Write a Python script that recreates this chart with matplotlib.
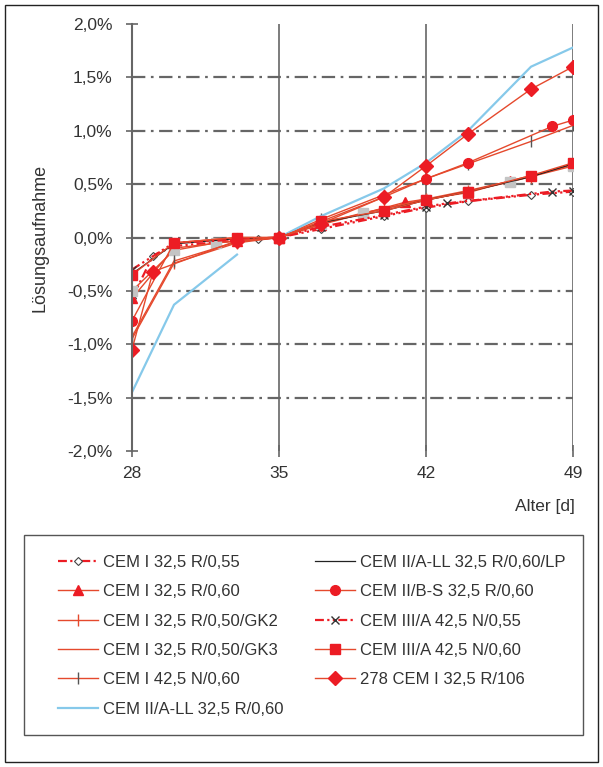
import matplotlib
matplotlib.use("Agg")
import matplotlib.pyplot as plt
import numpy as np
from matplotlib.patches import Rectangle
from matplotlib.ticker import FuncFormatter

plt.rcParams['font.family'] = ['Liberation Sans', 'DejaVu Sans']

# Data (Lösungsaufnahme in %, Alter in Tagen)
labels = [
    "CEM I 32,5 R/0,55",
    "CEM I 32,5 R/0,60",
    "CEM I 32,5 R/0,50/GK2",
    "CEM I 32,5 R/0,50/GK3",
    "CEM I 42,5 N/0,60",
    "CEM II/A-LL 32,5 R/0,60",
    "CEM II/A-LL 32,5 R/0,60/LP",
    "CEM II/B-S 32,5 R/0,60",
    "CEM III/A 42,5 N/0,55",
    "CEM III/A 42,5 N/0,60",
    "278 CEM I 32,5 R/106",
]

days_r055 = [28, 29, 30, 34, 35, 37, 40, 42, 44, 47, 49]
vals_r055 = [-0.57, -0.17, -0.08, -0.01, 0.0, 0.08, 0.20, 0.28, 0.34, 0.40, 0.43]

days_r060 = [28, 30, 33, 35, 37, 41, 42, 44, 46, 49]
vals_r060 = [-0.57, -0.10, -0.03, 0.0, 0.12, 0.33, 0.36, 0.42, 0.53, 0.68]

days_gk2 = [28, 30, 33, 35, 37, 40, 42, 44, 47, 49]
vals_gk2 = [-0.95, -0.24, -0.05, 0.0, 0.13, 0.27, 0.36, 0.44, 0.57, 0.69]

days_gk3 = [28, 30, 32, 35, 37, 39, 42, 44, 46, 49]
vals_gk3 = [-0.50, -0.12, -0.05, 0.0, 0.13, 0.23, 0.35, 0.43, 0.52, 0.67]

days_n060 = [28, 30, 33, 35, 37, 40, 42, 44, 47, 49]
vals_n060 = [-0.93, -0.22, -0.04, 0.0, 0.17, 0.40, 0.55, 0.69, 0.90, 1.05]

days_ll = [28, 30, 33, 34, 35, 37, 40, 42, 44, 47, 49]
vals_ll = [-1.45, -0.63, -0.16, np.nan, 0.0, 0.20, 0.46, 0.70, 1.00, 1.60, 1.78]

days_lp = [28, 30, 33, 35, 37, 40, 42, 44, 47, 49]
vals_lp = [-0.34, -0.06, -0.01, 0.0, 0.14, 0.25, 0.35, 0.43, 0.57, 0.69]

days_bs = [28, 30, 33, 35, 37, 40, 42, 44, 48, 49]
vals_bs = [-0.78, -0.05, 0.0, 0.0, 0.15, 0.38, 0.55, 0.70, 1.04, 1.10]

days_a055 = [28, 30, 33, 35, 37, 40, 42, 43, 48, 49]
vals_a055 = [-0.30, -0.05, -0.02, 0.0, 0.10, 0.21, 0.29, 0.32, 0.43, 0.44]

days_a060 = [28, 30, 33, 35, 37, 40, 42, 44, 47, 49]
vals_a060 = [-0.35, -0.05, 0.0, 0.0, 0.15, 0.25, 0.35, 0.43, 0.58, 0.70]

days_278 = [28, 29, 33, 35, 37, 40, 42, 44, 47, 49]
vals_278 = [-1.05, -0.32, -0.03, 0.0, 0.13, 0.38, 0.67, 0.97, 1.39, 1.60]

xticks = [28, 35, 42, 49]
yticks = [-2.0, -1.5, -1.0, -0.5, 0.0, 0.5, 1.0, 1.5, 2.0]

line_red = '#e5492d'
mark_red = '#ec1c24'
blue = '#86c9ea'
grid_col = '#666666'
txt = '#333333'
ddot = (0, (4, 1.5, 1, 1.5, 1, 1.5))

fig = plt.figure(figsize=(6.03, 7.67), dpi=100)
ax = fig.add_axes([132 / 603, 1 - 451 / 767, 441 / 603, 427 / 767])

ax.plot(days_r055, vals_r055, color=mark_red, ls=ddot, lw=1.6, marker='D', ms=4,
        mfc='white', mec='#444444', mew=0.8, label=labels[0])
ax.plot(days_r060, vals_r060, color=line_red, lw=1.0, marker='^', ms=7,
        mfc=mark_red, mec=mark_red, label=labels[1])
ax.plot(days_gk2, vals_gk2, color=line_red, lw=1.0, marker='|', ms=9,
        mec=line_red, mew=1.0, label=labels[2])
ax.plot(days_gk3, vals_gk3, color=line_red, lw=1.0, label=labels[3])
ax.plot(days_gk3, vals_gk3, ls='none', marker='s', ms=7, mfc='#c4c4c4', mec='#c4c4c4')
ax.plot(days_n060, vals_n060, color=line_red, lw=1.0, marker='|', ms=9,
        mec='#555555', mew=1.0, label=labels[4])
ax.plot(days_ll, vals_ll, color=blue, lw=1.6, label=labels[5])
ax.plot(days_lp, vals_lp, color='#222222', lw=0.9, label=labels[6])
ax.plot(days_bs, vals_bs, color=line_red, lw=1.0, marker='o', ms=7,
        mfc=mark_red, mec=mark_red, label=labels[7])
ax.plot(days_a055, vals_a055, color=mark_red, ls=ddot, lw=1.6, marker='x', ms=6,
        mec='#333333', mew=1.0, label=labels[8])
ax.plot(days_a060, vals_a060, color=line_red, lw=1.0, marker='s', ms=7.5,
        mfc=mark_red, mec=mark_red, label=labels[9])
ax.plot(days_278, vals_278, color=line_red, lw=1.0, marker='D', ms=7,
        mfc=mark_red, mec=mark_red, label=labels[10])

ax.set_xlim(28, 49)
ax.set_ylim(-2.0, 2.0)
ax.set_xticks(xticks)
ax.set_yticks(yticks)
ax.yaxis.set_major_formatter(FuncFormatter(lambda v, p: f"{v:.1f}%".replace('.', ',')))

for s in ['top', 'right', 'bottom']:
    ax.spines[s].set_visible(False)
ax.spines['left'].set_color(grid_col)
ax.spines['left'].set_linewidth(1.5)
ax.tick_params(axis='both', direction='inout', length=8, width=1.2, color=grid_col,
               labelsize=12.5, labelcolor=txt)
ax.tick_params(axis='y', pad=10)
ax.tick_params(axis='x', pad=7)

# grid: horizontal dash-dot, vertical solid
for v in yticks[1:-1]:
    ax.axhline(v, color=grid_col, lw=1.6, ls=(0, (6, 2.5, 1.2, 2.5)), zorder=0)
for d in xticks[1:]:
    ax.axvline(d, color=grid_col, lw=1.2, zorder=0)

fig.text(40 / 603, 1 - 238 / 767, "Lösungsaufnahme", rotation=90, ha='center',
         va='center', fontsize=13, color=txt)
fig.text(575 / 603, 1 - 507 / 767, "Alter [d]", ha='right', va='center',
         fontsize=12.5, color=txt)

leg = fig.legend(loc='upper left', bbox_to_anchor=(58 / 603, 1 - 555 / 767),
                 ncol=2, fontsize=12, frameon=False, handlelength=2.4,
                 handletextpad=0.3, labelspacing=0.86, columnspacing=1.9,
                 borderaxespad=0, borderpad=0)
for t in leg.get_texts():
    t.set_color(txt)

# legend frame and outer frame
fig.patches.append(Rectangle((24 / 603, 1 - 735 / 767), 559 / 603, 200 / 767,
                             transform=fig.transFigure, fill=False,
                             edgecolor='#555555', lw=1.0))
fig.patches.append(Rectangle((5 / 603, 5 / 767), 593 / 603, 757 / 767, transform=fig.transFigure,
                             fill=False, edgecolor='#222222', lw=1.0))

fig.savefig("out.png", dpi=100)
